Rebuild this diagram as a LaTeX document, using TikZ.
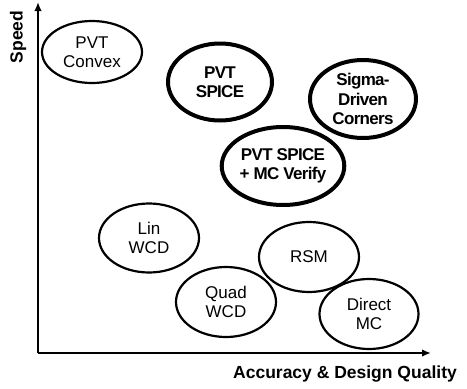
\documentclass[tikz,border=0pt]{standalone}
\usepackage{fontspec}
\setmainfont{Liberation Sans}
\newfontfamily\tightbold[LetterSpace=-4,BoldFont={Liberation Sans Bold}]{Liberation Sans}
\usetikzlibrary{shapes.geometric,arrows.meta}
\begin{document}
\begin{tikzpicture}[x=1pt,y=-1pt,
  bub/.style={ellipse,draw,line width=2.2pt,inner sep=0pt,align=center,
    font=\fontsize{17}{19.5}\selectfont},
  bubb/.style={bub,line width=4pt,font=\fontsize{17}{19.5}\selectfont\tightbold\bfseries},
  axis/.style={line width=2.6pt,-{Latex[length=9pt,width=7.5pt]}},
  axlab/.style={font=\fontsize{17.5}{20}\selectfont\bfseries,inner sep=0pt}]
\useasboundingbox (0,0) rectangle (467,389);
\coordinate (o) at (38,353);
\coordinate (xe) at (431,353);
\coordinate (ye) at (38,2);
\draw[axis] (o) -- (xe);
\draw[axis] (o) -- (ye);
\node[axlab,rotate=90] (sp) at (18,37) {Speed};
\node[axlab] (ac) at (345,374) {Accuracy \& Design Quality};
\node[bub,minimum width=100pt,minimum height=62pt] (pc) at (92,52) {PVT\\Convex};
\node[bubb,minimum width=104pt,minimum height=77pt] (ps) at (220,82) {PVT\\SPICE};
\node[bubb,minimum width=106pt,minimum height=78pt] (sd) at (363,99) {Sigma-\\Driven\\Corners};
\node[bubb,minimum width=104pt,minimum height=78pt] (pm) at (283,166) {PVT SPICE\\+ MC Verify};
\node[bub,minimum width=100pt,minimum height=69pt] (lw) at (149,238) {Lin\\WCD};
\node[bub,minimum width=100pt,minimum height=70pt] (rs) at (309,257) {RSM};
\node[bub,minimum width=100pt,minimum height=70pt] (qw) at (226,302) {Quad\\WCD};
\node[bub,minimum width=99pt,minimum height=70pt] (dm) at (369,314) {Direct\\MC};
\end{tikzpicture}
\end{document}
